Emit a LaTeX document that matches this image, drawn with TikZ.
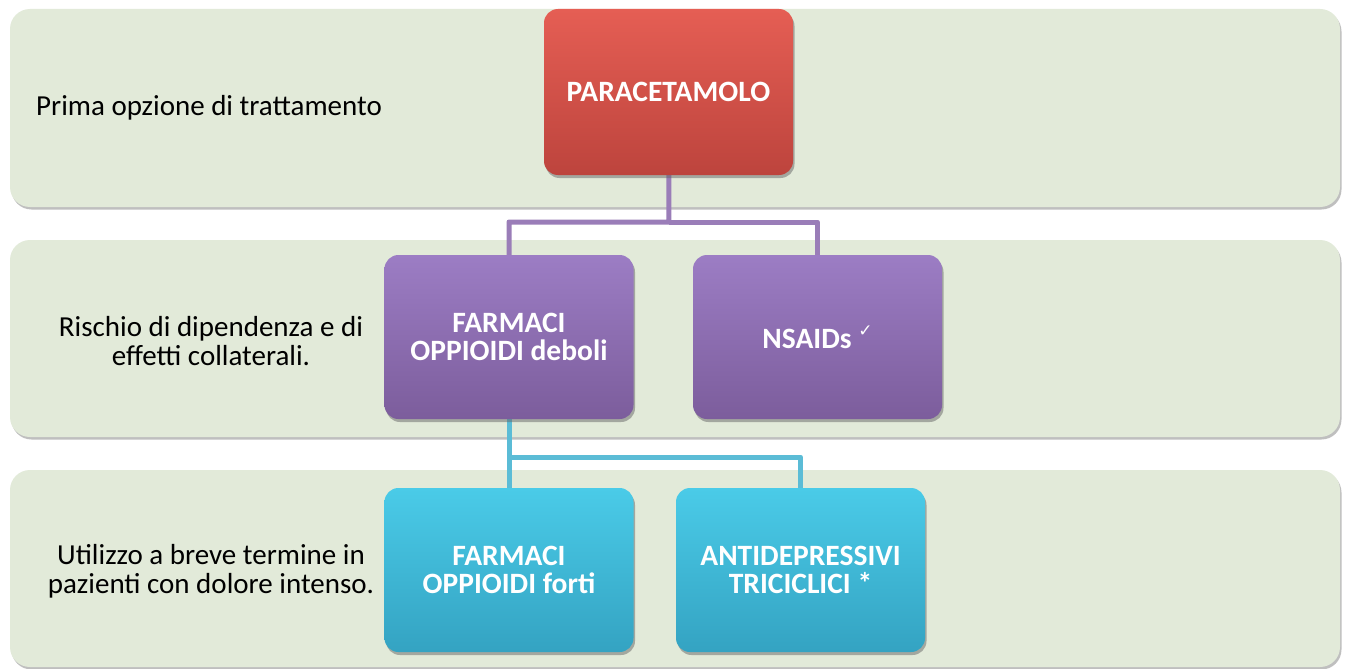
\documentclass[tikz,border=0pt]{standalone}
\usepackage{fontspec}
\setmainfont{Carlito}
\newfontfamily\symfont{DejaVu Sans}
\usetikzlibrary{shadows}
\definecolor{bandgreen}{HTML}{E2EAD9}
\definecolor{redtop}{HTML}{E55E54}
\definecolor{redbot}{HTML}{BD443D}
\definecolor{purtop}{HTML}{9C7DC4}
\definecolor{purbot}{HTML}{7C5D9C}
\definecolor{cyantop}{HTML}{4ACBE8}
\definecolor{cyanbot}{HTML}{34A3C2}
\definecolor{pline}{HTML}{9A7DB8}
\definecolor{cline}{HTML}{5BBCD6}
\begin{document}
\begin{tikzpicture}[x=1pt,y=-1pt,
  band/.style={fill=bandgreen, rounded corners=20pt, minimum width=1330pt,
    minimum height=198pt, inner sep=0pt,
    drop shadow={shadow xshift=1.5pt, shadow yshift=-2.5pt, opacity=0.45, fill=black!55}},
  lbl/.style={font=\fontsize{29}{29.4}\selectfont, text=black, align=center, inner sep=0pt},
  box/.style={rounded corners=14pt, minimum width=249pt, minimum height=164pt,
    inner sep=0pt, align=center,
    font=\fontsize{29.5}{28}\selectfont\bfseries, text=white,
    drop shadow={shadow xshift=1.5pt, shadow yshift=-3pt, opacity=0.5, fill=black!60}},
  redbox/.style={box, top color=redtop, bottom color=redbot},
  purbox/.style={box, top color=purtop, bottom color=purbot},
  cyanbox/.style={box, top color=cyantop, bottom color=cyanbot},
  pconn/.style={draw=pline, line width=5pt, line join=round},
  cconn/.style={draw=cline, line width=5pt, line join=round}]
\useasboundingbox (0,0) rectangle (1345,669);
\fill[white] (0,0) rectangle (1345,669);

% bands
\node[band] (b1) at (675,108) {};
\node[band, minimum height=197pt] (b2) at (675,338.5) {};
\node[band, minimum height=197pt] (b3) at (675,568.5) {};

% band labels
\node[lbl, anchor=west] (l1) at (36,108) {Prima opzione di trattamento};
\node[lbl] (l2) at (211,341) {Rischio di dipendenza e di\\effetti collaterali.};
\node[lbl] (l3) at (211,571) {Utilizzo a breve termine in\\pazienti con dolore intenso.};

% junctions
\coordinate (j1) at (669,222);
\coordinate (j2) at (509,457);

% box centres
\path (668.5,92) coordinate (cpara);
\path (509,337) coordinate (cdeb);
\path (817.5,337) coordinate (cnsa);
\path (509,570) coordinate (cfor);
\path (800.5,570) coordinate (cant);

% connectors
\draw[pconn] (cpara) -- (j1) -| (cdeb);
\draw[pconn] (j1) -| (cnsa);
\draw[cconn] (cdeb) -- (j2) -| (cant);
\draw[cconn] (j2) -- (cfor);

\node[redbox, minimum height=166pt] (para) at (cpara) {PARACETAMOLO};
\node[purbox] (deb) at (cdeb) {FARMACI\\OPPIOIDI deboli};
\node[purbox] (nsa) at (cnsa) {NSAIDs \raisebox{0.4em}{\fontsize{17}{17}\selectfont\mdseries\symfont ✓}};
\node[cyanbox] (for) at (cfor) {FARMACI\\OPPIOIDI forti};
\node[cyanbox] (ant) at (cant) {ANTIDEPRESSIVI\\TRICICLICI *};
\end{tikzpicture}
\end{document}
